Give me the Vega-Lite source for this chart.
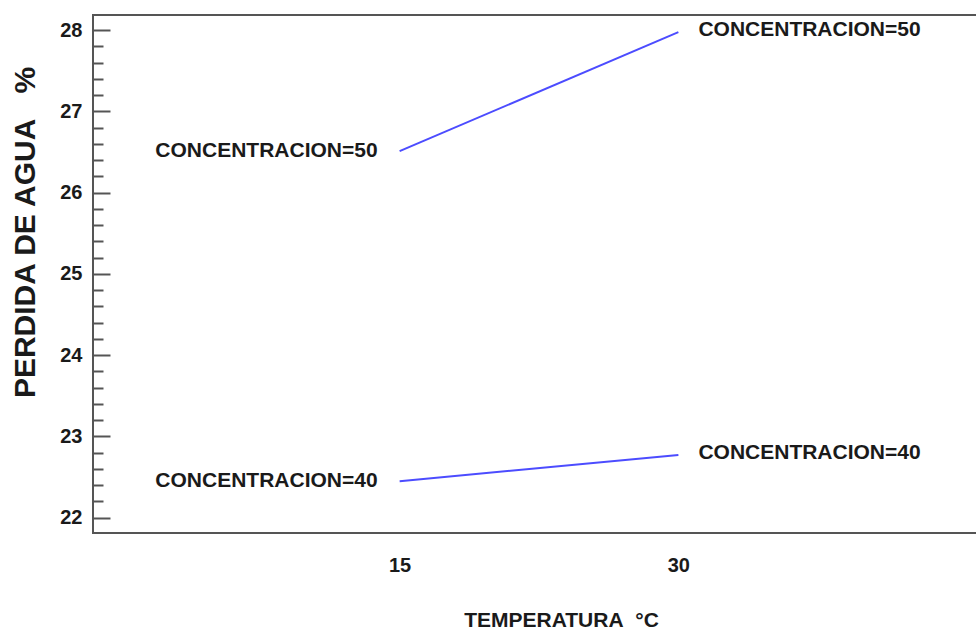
{
  "$schema": "https://vega.github.io/schema/vega-lite/v6.json",
  "width": 892,
  "height": 518,
  "autosize": "none",
  "padding": {"left": 93, "top": 15, "right": 0, "bottom": 98},
  "background": "white",
  "config": {"view": {"stroke": "#555555", "strokeWidth": 2}, "font": "Liberation Sans"},
  "data": {"values": [
    {"temp": 15, "perdida": 26.51, "conc": "50", "label": "CONCENTRACION=50"},
    {"temp": 30, "perdida": 27.975, "conc": "50", "label": "CONCENTRACION=50"},
    {"temp": 15, "perdida": 22.447, "conc": "40", "label": "CONCENTRACION=40"},
    {"temp": 30, "perdida": 22.77, "conc": "40", "label": "CONCENTRACION=40"}
  ]},
  "encoding": {
    "x": {
      "field": "temp", "type": "quantitative",
      "scale": {"domain": [-1.5, 46.5], "nice": false, "zero": false},
      "axis": {
        "values": [15, 30], "ticks": false, "domain": false, "grid": false,
        "labelFont": "Liberation Sans", "labelFontSize": 20, "labelFontWeight": "bold",
        "labelColor": "#1a1a1a", "labelPadding": 22,
        "title": "TEMPERATURA\u00a0\u00a0°C",
        "titleFont": "Liberation Sans", "titleFontSize": 21, "titleFontWeight": "bold",
        "titleColor": "#1a1a1a", "titleX": 468, "titleY": 93,
        "titleBaseline": "alphabetic", "titleAlign": "center", "titleAnchor": null
      }
    },
    "y": {
      "field": "perdida", "type": "quantitative",
      "scale": {"domain": [21.81, 28.185], "nice": false, "zero": false},
      "axis": {
        "values": [22, 22.2, 22.4, 22.6, 22.8, 23, 23.2, 23.4, 23.6, 23.8, 24, 24.2, 24.4, 24.6, 24.8, 25, 25.2, 25.4, 25.6, 25.8, 26, 26.2, 26.4, 26.6, 26.8, 27, 27.2, 27.4, 27.6, 27.8, 28],
        "labelExpr": "abs(datum.value - round(datum.value)) < 0.01 ? format(datum.value, '.0f') : ''",
        "labelOverlap": false,
        "tickSize": {"condition": {"test": "abs(datum.value - round(datum.value)) < 0.01", "value": -17}, "value": -10},
        "tickColor": "#555555", "tickWidth": 2,
        "domain": false, "grid": false,
        "labelFont": "Liberation Sans", "labelFontSize": 20, "labelFontWeight": "bold",
        "labelColor": "#1a1a1a", "labelPadding": 28,
        "title": "PERDIDA DE AGUA\u00a0\u00a0\u00a0%",
        "titleFont": "Liberation Sans", "titleFontSize": 30, "titleFontWeight": "bold",
        "titleColor": "#1a1a1a", "titleX": -68, "titleY": 217, "titleAngle": 270,
        "titleAlign": "center", "titleBaseline": "middle", "titleAnchor": null
      }
    }
  },
  "layer": [
    {
      "mark": {"type": "line", "color": "#4c4cff", "strokeWidth": 2},
      "encoding": {"detail": {"field": "conc"}}
    },
    {
      "transform": [{"filter": "datum.temp == 15"}],
      "mark": {"type": "text", "align": "right", "baseline": "middle", "dx": -22, "dy": 0, "fontSize": 21, "fontWeight": "bold", "font": "Liberation Sans", "color": "#1a1a1a"},
      "encoding": {"text": {"field": "label"}}
    },
    {
      "transform": [{"filter": "datum.temp == 30"}],
      "mark": {"type": "text", "align": "left", "baseline": "middle", "dx": 20, "dy": -2, "fontSize": 21, "fontWeight": "bold", "font": "Liberation Sans", "color": "#1a1a1a"},
      "encoding": {"text": {"field": "label"}}
    }
  ]
}
